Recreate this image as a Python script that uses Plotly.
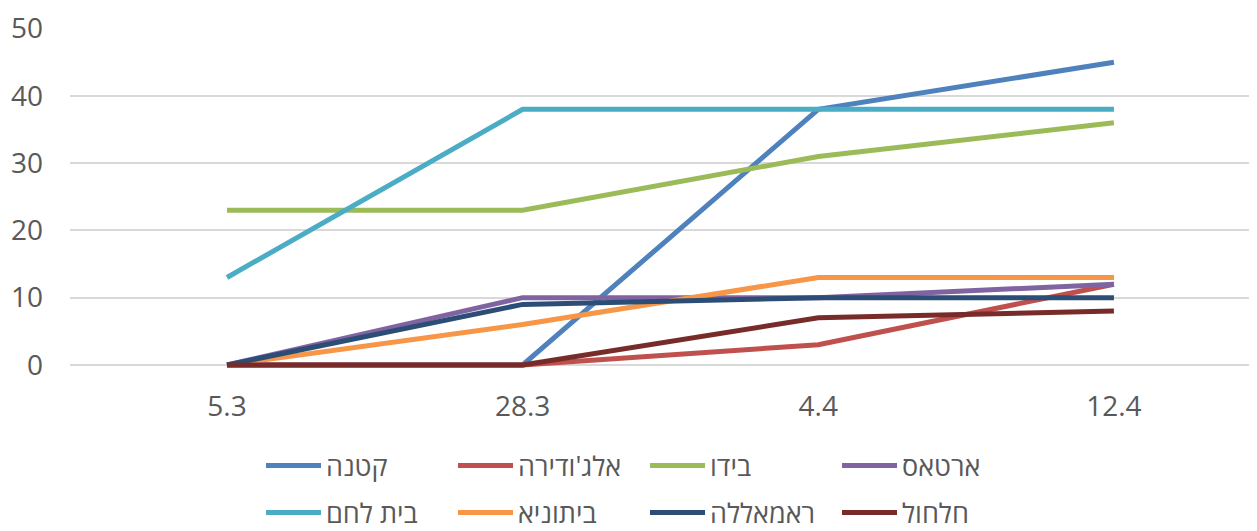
import plotly.graph_objects as go

categories = ["5.3", "28.3", "4.4", "12.4"]
series_names = ["קטנה", "אלג'ודירה", "בידו", "ארטאס", "בית לחם", "ביתוניא", "ראמאללה", "חלחול"]
katana = [0, 0, 38, 45]
aljudeira = [0, 0, 3, 12]
beidu = [23, 23, 31, 36]
artas = [0, 10, 10, 12]
beit_lehem = [13, 38, 38, 38]
beitunia = [0, 6, 13, 13]
ramallah = [0, 9, 10, 10]
halhul = [0, 0, 7, 8]
series_values = [katana, aljudeira, beidu, artas, beit_lehem, beitunia, ramallah, halhul]
colors = ["#4F81BD", "#C0504D", "#9BBB59", "#8064A2", "#4BACC6", "#F79646", "#2C4D75", "#772C2A"]

fig = go.Figure()
for i, (name, vals) in enumerate(zip(series_names, series_values)):
    fig.add_trace(go.Scatter(
        x=categories, y=vals, name=name, mode="lines",
        line=dict(color=colors[i], width=5),
        legend="legend" if i < 4 else "legend2",
    ))

font_fam = "Open Sans, DejaVu Sans, sans-serif"
leg_common = dict(
    orientation="h", xref="container", yref="container",
    x=253 / 1257, xanchor="left", yanchor="middle",
    entrywidth=122, entrywidthmode="pixels",
    font=dict(family=font_fam, size=27, color="#595959"),
    bgcolor="rgba(0,0,0,0)", tracegroupgap=0, itemwidth=55,
)
fig.update_layout(
    width=1257, height=531,
    margin=dict(l=62, r=0, t=17, b=164),
    paper_bgcolor="white", plot_bgcolor="white",
    showlegend=True,
    legend=dict(**leg_common, y=1 - 458 / 531),
    legend2=dict(**leg_common, y=1 - 505 / 531),
    xaxis=dict(
        type="category", range=[-0.531, 3.511],
        showgrid=False, zeroline=False, showline=False,
        tickfont=dict(family=font_fam, size=28, color="#595959"),
        ticks="", ticklabelstandoff=12,
    ),
    yaxis=dict(
        range=[-1.5, 50.1], tickvals=[0, 10, 20, 30, 40, 50],
        showgrid=True, gridcolor="#D9D9D9", gridwidth=2,
        zeroline=False, showline=False, ticks="",
        tickfont=dict(family=font_fam, size=28, color="#595959"),
        ticklabelstandoff=26, ticklabeloverflow="allow",
    ),
)
fig.write_html("out.html")
